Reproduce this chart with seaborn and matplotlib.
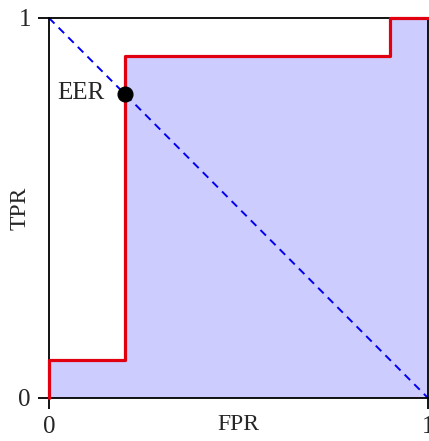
import matplotlib
matplotlib.use("Agg")
import matplotlib.pyplot as plt
import seaborn as sns
import pandas as pd

fpr = [0.0, 0.0, 0.2, 0.2, 0.9, 0.9, 1.0]
tpr = [0.0, 0.1, 0.1, 0.9, 0.9, 1.0, 1.0]
eer_x = [0.2]
eer_y = [0.8]
diag_x = [0.0, 1.0]
diag_y = [1.0, 0.0]
ticks = [0, 1]
tick_labels = ["0", "1"]

sns.set_style("white")
plt.rcParams['font.family'] = ['Liberation Serif', 'DejaVu Serif']

fig = plt.figure(figsize=(4.29, 4.41), dpi=100)
ax = fig.add_axes([49/429, 1-398/441, 379/429, 380/441])

df = pd.DataFrame({"FPR": fpr, "TPR": tpr})
ax.fill_between(fpr, tpr, 0, color="#ccccff", linewidth=0, zorder=1)
sns.lineplot(x=diag_x, y=diag_y, ax=ax, color="#0000ee", linewidth=1.4,
             linestyle=(0, (4, 3)), zorder=2)
sns.lineplot(data=df, x="FPR", y="TPR", sort=False, estimator=None, ax=ax,
             color="#e00010", linewidth=2.3, zorder=3, clip_on=False)
sns.scatterplot(x=eer_x, y=eer_y, ax=ax, color="black", s=115, zorder=4,
                edgecolor="black", clip_on=False)
ax.text(0.2 - 0.053, 0.787, "EER", ha="right", va="baseline", fontsize=18)

ax.set_xlim(0, 1)
ax.set_ylim(0, 1)
ax.set_xticks(ticks)
ax.set_xticklabels(tick_labels)
ax.set_yticks(ticks)
ax.set_yticklabels(tick_labels)
ax.tick_params(direction="out", length=8, width=1.3, labelsize=18, pad=5,
               bottom=True, left=True, color="black")
for s in ax.spines.values():
    s.set_color("black")
    s.set_linewidth(1.3)
ax.set_xlabel("FPR", fontsize=17, labelpad=-17)
ax.set_ylabel("TPR", fontsize=17, labelpad=-9)

fig.savefig("out.png", dpi=100)
